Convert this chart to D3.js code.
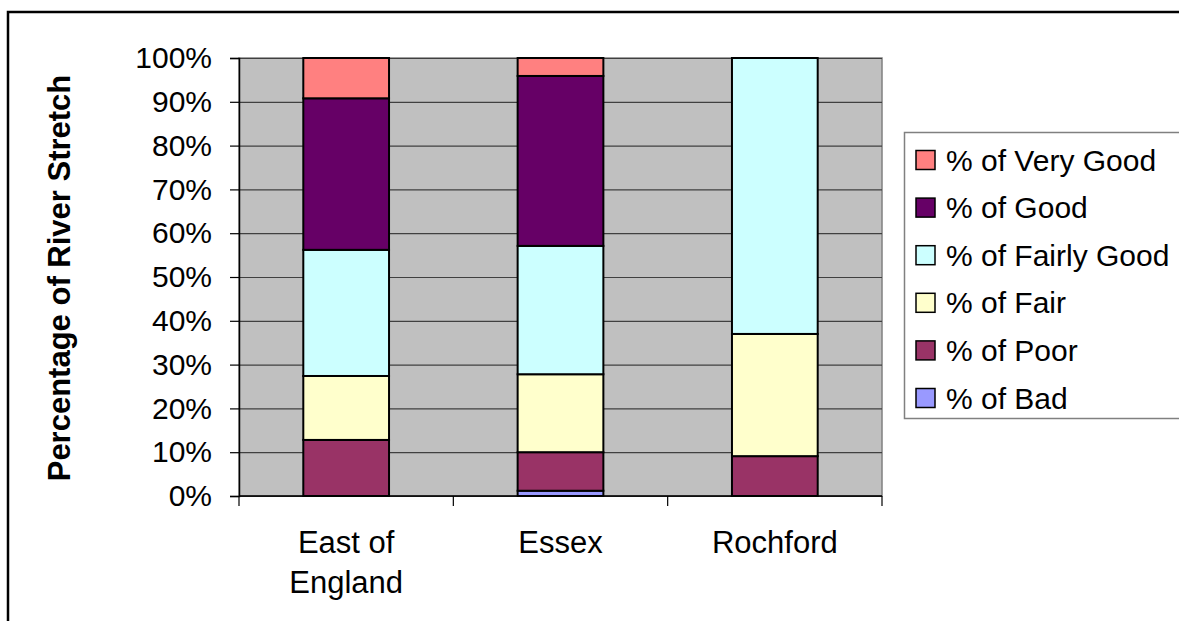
<!DOCTYPE html>
<html>
<head>
<meta charset="utf-8">
<script src="https://cdn.jsdelivr.net/npm/d3@7"></script>
<style>
  body { margin: 0; background: #fff; }
  svg { display: block; font-family: "Liberation Sans", Arial, sans-serif; }
</style>
</head>
<body>
<div class="chart-container"></div>
<script>
const categories = ['East of England', 'Essex', 'Rochford'];
const seriesNames = ['% of Bad', '% of Poor', '% of Fair', '% of Fairly Good', '% of Good', '% of Very Good'];
const bad        = [0, 1.2, 0];
const poor       = [12.8, 8.8, 9.1];
const fair       = [14.6, 17.8, 27.9];
const fairlyGood = [28.8, 29.3, 63.0];
const good       = [34.6, 38.8, 0];
const veryGood   = [9.2, 4.1, 0];
const yTicks = [0, 10, 20, 30, 40, 50, 60, 70, 80, 90, 100];

const colors = ['#9999ff', '#993366', '#ffffcc', '#ccffff', '#660066', '#ff8080'];

const width = 1179, height = 621;
const plot = {left: 239, right: 882, top: 58, bottom: 496};

const svg = d3.select('.chart-container').append('svg')
    .attr('width', width)
    .attr('height', height);

// outer chart frame (runs off the right / bottom edge)
svg.append('rect')
    .attr('x', 8).attr('y', 12)
    .attr('width', 1300).attr('height', 800)
    .attr('fill', 'none')
    .attr('stroke', '#000')
    .attr('stroke-width', 2.5);

// build rows for stacking
const seriesVals = [bad, poor, fair, fairlyGood, good, veryGood];
const keys = seriesNames;
const rows = categories.map((c, i) => {
    const r = {cat: c};
    keys.forEach((k, j) => r[k] = seriesVals[j][i]);
    return r;
});
const stacked = d3.stack().keys(keys)(rows);

const x = d3.scaleBand()
    .domain(categories)
    .range([plot.left, plot.right])
    .padding(0);

const y = d3.scaleLinear()
    .domain([0, 100])
    .range([plot.bottom, plot.top]);

const barW = x.bandwidth() / 2.5;

// plot background
svg.append('rect')
    .attr('x', plot.left).attr('y', plot.top)
    .attr('width', plot.right - plot.left)
    .attr('height', plot.bottom - plot.top)
    .attr('fill', '#c0c0c0')
    .attr('stroke', '#808080')
    .attr('stroke-width', 1.5);

// y grid
const yAxisGrid = d3.axisRight(y).tickValues(yTicks).tickSize(plot.right - plot.left).tickFormat('');
svg.append('g')
    .attr('class', 'y axis-grid')
    .attr('transform', 'translate(' + plot.left + ',0)')
    .call(yAxisGrid)
    .call(g => g.select('.domain').remove())
    .call(g => g.selectAll('line').attr('stroke', '#404040').attr('stroke-width', 1.2));

// bars
svg.append('g').attr('id', 'bars')
    .selectAll('g')
    .data(stacked)
    .enter()
    .append('g')
    .attr('fill', (d, i) => colors[i])
    .selectAll('rect')
    .data(d => d.filter(s => s[1] - s[0] > 0))
    .enter()
    .append('rect')
        .attr('x', d => x(d.data.cat) + (x.bandwidth() - barW) / 2)
        .attr('y', d => y(d[1]))
        .attr('height', d => y(d[0]) - y(d[1]))
        .attr('width', barW)
        .attr('stroke', '#000')
        .attr('stroke-width', 2);

// y axis
svg.append('g')
    .attr('transform', 'translate(' + plot.left + ',0)')
    .call(d3.axisLeft(y).tickValues(yTicks).tickSize(9).tickPadding(18).tickFormat(d => d + '%'))
    .call(g => g.select('.domain').attr('stroke', '#000').attr('stroke-width', 1.5))
    .call(g => g.selectAll('line').attr('stroke', '#000').attr('stroke-width', 1.2))
    .call(g => g.selectAll('text')
        .attr('font-size', '30px')
        .attr('font-family', '"Liberation Sans", Arial, sans-serif')
        .attr('fill', '#000'));

// x axis: ticks at category boundaries
const xAxisG = svg.append('g')
    .attr('transform', 'translate(0,' + plot.bottom + ')');
xAxisG.append('line')
    .attr('x1', plot.left).attr('x2', plot.right)
    .attr('stroke', '#000').attr('stroke-width', 1.5);
const bounds = categories.map(c => x(c)).concat([x(categories[categories.length - 1]) + x.bandwidth()]);
xAxisG.selectAll('line.tick')
    .data(bounds)
    .enter()
    .append('line')
    .attr('class', 'tick')
    .attr('x1', d => d).attr('x2', d => d)
    .attr('y1', 0).attr('y2', 10)
    .attr('stroke', '#000').attr('stroke-width', 1.2);

const xLabels = xAxisG.selectAll('text')
    .data(categories)
    .enter()
    .append('text')
    .attr('x', d => x(d) + x.bandwidth() / 2)
    .attr('y', 57)
    .attr('text-anchor', 'middle')
    .attr('font-size', '31px')
    .attr('fill', '#000')
    .text(d => d);

function wrap(texts, maxW) {
    texts.each(function() {
        const t = d3.select(this);
        const words = t.text().split(' ');
        const cx = t.attr('x');
        t.text(null);
        let line = [];
        let ts = t.append('tspan').attr('x', cx).attr('dy', 0);
        let n = 0;
        words.forEach(w => {
            line.push(w);
            ts.text(line.join(' '));
            if (ts.node().getComputedTextLength() > maxW && line.length > 1) {
                line.pop();
                ts.text(line.join(' '));
                line = [w];
                n++;
                ts = t.append('tspan').attr('x', cx).attr('dy', 39.5).text(w);
            }
        });
    });
}
wrap(xLabels, 140);

// y axis title
svg.append('text')
    .attr('transform', 'translate(70,' + ((plot.top + plot.bottom) / 2 + 1) + ') rotate(-90)')
    .attr('text-anchor', 'middle')
    .attr('font-size', '31px')
    .attr('font-weight', 'bold')
    .attr('fill', '#000')
    .text('Percentage of River Stretch');

// legend
const legend = svg.append('g').attr('id', 'legend');
legend.append('rect')
    .attr('x', 904.5).attr('y', 132.5)
    .attr('width', 400).attr('height', 286)
    .attr('fill', '#fff')
    .attr('stroke', '#808080')
    .attr('stroke-width', 1.5);

const legendOrder = seriesNames.map((n, i) => i).reverse();
const legendY = d3.scalePoint()
    .domain(legendOrder)
    .range([160, 398]);

const item = legend.selectAll('g.item')
    .data(legendOrder)
    .enter()
    .append('g')
    .attr('class', 'item')
    .attr('transform', d => 'translate(0,' + legendY(d) + ')');
item.append('rect')
    .attr('x', 916).attr('y', -9.5)
    .attr('width', 19).attr('height', 19)
    .attr('fill', d => colors[d])
    .attr('stroke', '#000')
    .attr('stroke-width', 1.5);
item.append('text')
    .attr('x', 946)
    .attr('dy', '0.35em')
    .attr('font-size', '30px')
    .attr('fill', '#000')
    .text(d => seriesNames[d]);
</script>
</body>
</html>
